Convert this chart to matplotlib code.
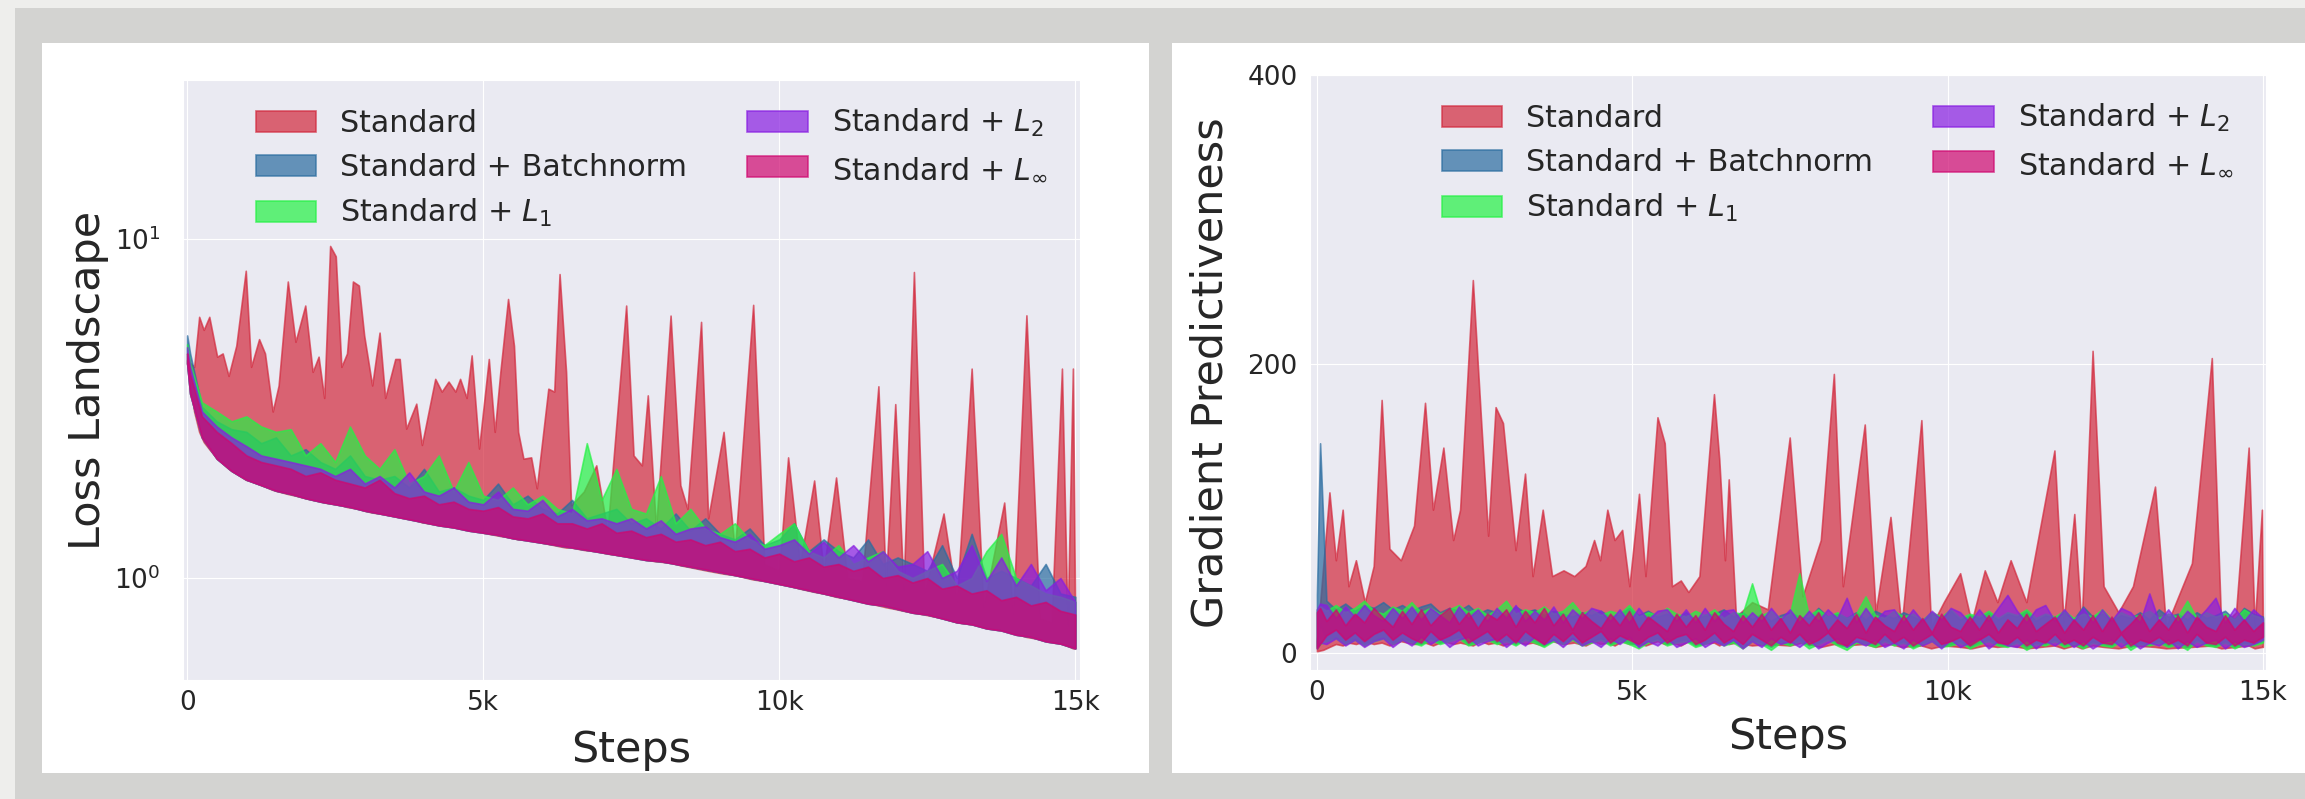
import numpy as np
import matplotlib
matplotlib.use("Agg")
import matplotlib.pyplot as plt
import seaborn as sns
from matplotlib.patches import Rectangle
from matplotlib.ticker import FixedLocator, FixedFormatter, NullFormatter, NullLocator

# ---------------------------------------------------------------- data
LABELS = ["Standard", "Standard + Batchnorm", "Standard + $L_1$",
          "Standard + $L_2$", "Standard + $L_\\infty$"]
COLORS = ["#d2283c", "#2a6ca0", "#24f244", "#881de1", "#cf076f"]

# sampling grids of the regularised runs
LOSS_STEPS = np.concatenate([[0, 50], np.arange(250, 15001, 250)])
GRAD_STEPS = np.concatenate([[0, 50], np.arange(150, 15001, 150)])

# --- loss landscape (log scale): (step, low, high) for the plain network
LOSS_STANDARD = [
    (0, 4.3, 4.4), (118, 3.1, 4.2), (203, 2.7, 5.9), (280, 2.52, 5.4), (374, 2.4, 5.9),
    (507, 2.25, 4.5), (600, 2.18, 4.6), (700, 2.1, 3.95), (830, 2.03, 4.85), (990, 1.95, 8.07),
    (1080, 1.93, 4.2), (1215, 1.89, 5.07), (1315, 1.86, 4.6), (1445, 1.82, 3.1), (1545, 1.80, 3.7),
    (1700, 1.77, 7.5), (1830, 1.75, 4.98), (1995, 1.72, 6.37), (2120, 1.70, 4.06), (2220, 1.69, 4.5),
    (2315, 1.67, 3.4), (2415, 1.66, 9.55), (2510, 1.65, 8.9), (2605, 1.64, 4.2), (2700, 1.62, 4.6),
    (2800, 1.61, 7.5), (2900, 1.60, 7.3), (2990, 1.58, 5.2), (3125, 1.56, 3.7), (3250, 1.55, 5.3),
    (3345, 1.54, 3.4), (3515, 1.52, 4.43), (3590, 1.51, 4.43), (3700, 1.50, 2.76), (3870, 1.48, 3.27),
    (3965, 1.46, 2.47), (4190, 1.44, 3.87), (4300, 1.43, 3.55), (4415, 1.42, 3.8), (4530, 1.41, 3.55),
    (4610, 1.40, 3.87), (4720, 1.39, 3.4), (4805, 1.38, 4.54), (4930, 1.37, 2.41), (5095, 1.35, 4.43),
    (5195, 1.34, 2.7), (5290, 1.33, 4.06), (5420, 1.32, 6.66), (5520, 1.31, 4.85), (5590, 1.30, 2.7),
    (5680, 1.30, 2.25), (5810, 1.29, 2.27), (5905, 1.28, 1.84), (6100, 1.26, 3.62), (6200, 1.25, 3.55),
    (6290, 1.24, 7.89), (6400, 1.23, 4.06), (6485, 1.23, 1.64), (6700, 1.21, 1.8), (6910, 1.20, 2.15),
    (7100, 1.18, 1.37), (7415, 1.16, 6.37), (7540, 1.15, 2.3), (7680, 1.14, 2.15), (7780, 1.13, 3.46),
    (7920, 1.12, 1.4), (8165, 1.11, 5.95), (8330, 1.09, 1.88), (8450, 1.08, 1.6), (8680, 1.06, 5.7),
    (8800, 1.05, 1.5), (9060, 1.03, 2.7), (9250, 1.02, 1.2), (9560, 0.99, 6.4), (9750, 0.98, 1.1),
    (10000, 0.96, 1.05), (10150, 0.95, 2.27), (10350, 0.93, 1.1), (10590, 0.91, 1.94), (10750, 0.90, 1.05),
    (10960, 0.88, 1.98), (11150, 0.87, 1.0), (11400, 0.85, 0.98), (11675, 0.83, 3.68), (11800, 0.82, 0.95),
    (11960, 0.81, 3.26), (12100, 0.80, 0.92), (12275, 0.79, 8.0), (12450, 0.78, 0.9), (12775, 0.76, 1.55),
    (13000, 0.74, 0.85), (13250, 0.73, 4.15), (13450, 0.72, 0.82), (13800, 0.70, 1.67), (13950, 0.69, 0.78),
    (14175, 0.67, 5.96), (14400, 0.66, 0.76), (14600, 0.65, 0.74), (14775, 0.64, 4.15), (14870, 0.63, 0.72),
    (14960, 0.62, 4.15), (15000, 0.62, 0.7),
]

# common lower envelope of the regularised runs on LOSS_STEPS
LOSS_FLOOR = [4.3, 3.5, 2.6, 2.25, 2.07, 1.95, 1.88, 1.81, 1.77, 1.72,
              1.68, 1.65, 1.62, 1.58, 1.55, 1.52, 1.49, 1.46, 1.43, 1.41,
              1.38, 1.36, 1.34, 1.31, 1.29, 1.27, 1.25, 1.23, 1.21, 1.19,
              1.17, 1.15, 1.13, 1.12, 1.10, 1.08, 1.06, 1.04, 1.02, 1.00,
              0.98, 0.96, 0.94, 0.92, 0.90, 0.88, 0.86, 0.84, 0.83, 0.81,
              0.79, 0.78, 0.76, 0.74, 0.73, 0.71, 0.70, 0.68, 0.67, 0.65,
              0.64, 0.62]
LOSS_BN_HIGH = [5.2, 4.6, 3.2, 2.9, 2.75, 2.7, 2.5, 2.6, 2.3, 2.4,
                2.2, 2.1, 2.3, 2.0, 1.95, 2.0, 1.85, 2.1, 1.8, 1.85,
                1.75, 1.7, 1.9, 1.65, 1.75, 1.6, 1.55, 1.7, 1.5, 1.55,
                1.6, 1.45, 1.5, 1.4, 1.55, 1.38, 1.5, 1.35, 1.3, 1.4,
                1.25, 1.3, 1.45, 1.2, 1.3, 1.2, 1.15, 1.3, 1.1, 1.15,
                1.1, 1.05, 1.25, 1.0, 1.35, 1.0, 1.05, 1.0, 0.95, 1.1,
                0.9, 0.88]
LOSS_L1_HIGH = [4.9, 4.3, 3.3, 3.1, 2.9, 3.0, 2.8, 2.7, 2.75, 2.3,
                2.5, 2.2, 2.8, 2.3, 2.1, 2.4, 1.9, 2.0, 2.3, 1.8,
                2.2, 1.75, 1.7, 1.85, 1.65, 1.75, 1.6, 1.55, 2.5, 1.7,
                2.1, 1.6, 1.55, 2.0, 1.45, 1.6, 1.4, 1.35, 1.45, 1.3,
                1.25, 1.35, 1.45, 1.2, 1.15, 1.25, 1.1, 1.15, 1.2, 1.05,
                1.0, 1.05, 1.1, 0.95, 1.0, 1.2, 1.35, 1.0, 0.95, 0.9,
                0.88, 0.85]
LOSS_L2_HIGH = [4.8, 4.2, 3.1, 2.8, 2.6, 2.45, 2.3, 2.25, 2.2, 2.15,
                2.1, 2.0, 2.1, 1.9, 2.0, 1.85, 2.05, 1.8, 1.75, 1.85,
                1.68, 1.65, 1.8, 1.6, 1.58, 1.7, 1.52, 1.6, 1.48, 1.5,
                1.45, 1.5, 1.4, 1.48, 1.35, 1.4, 1.42, 1.32, 1.28, 1.35,
                1.22, 1.25, 1.3, 1.18, 1.28, 1.15, 1.25, 1.12, 1.2, 1.08,
                1.1, 1.2, 1.0, 1.05, 1.25, 0.98, 1.15, 0.95, 1.1, 0.92,
                1.0, 0.85]
LOSS_LINF_HIGH = [4.6, 4.0, 3.0, 2.7, 2.5, 2.3, 2.2, 2.15, 2.1, 2.0,
                  2.05, 1.95, 1.9, 1.85, 1.95, 1.78, 1.72, 1.75, 1.65, 1.68,
                  1.6, 1.58, 1.62, 1.52, 1.5, 1.55, 1.45, 1.45, 1.4, 1.45,
                  1.36, 1.38, 1.32, 1.35, 1.28, 1.3, 1.25, 1.28, 1.2, 1.22,
                  1.15, 1.18, 1.12, 1.15, 1.08, 1.1, 1.05, 1.08, 1.0, 1.02,
                  0.97, 1.0, 0.93, 0.95, 0.9, 0.92, 0.86, 0.88, 0.83, 0.85,
                  0.8, 0.78]

# --- gradient predictiveness: (step, low, high) for the plain network
GRAD_STANDARD = [
    (0, 1, 8), (100, 2, 60), (198, 4, 111), (300, 6, 64), (408, 5, 99), (500, 7, 46),
    (618, 6, 64), (760, 8, 35), (900, 6, 60), (1026, 7, 175), (1150, 5, 72), (1330, 8, 64),
    (1540, 6, 88), (1714, 7, 173), (1840, 5, 99), (2005, 8, 142), (2160, 6, 78), (2270, 7, 99),
    (2472, 5, 258), (2600, 8, 163), (2715, 6, 81), (2833, 7, 170), (2950, 5, 159), (3150, 8, 71),
    (3300, 6, 124), (3420, 7, 53), (3580, 5, 99), (3730, 8, 53), (3910, 6, 57), (4080, 7, 53),
    (4260, 5, 60), (4395, 8, 78), (4490, 6, 64), (4605, 7, 99), (4720, 5, 78), (4840, 8, 85),
    (4955, 6, 46), (5107, 7, 110), (5210, 5, 53), (5400, 8, 163), (5515, 6, 145), (5630, 7, 46),
    (5770, 5, 50), (5890, 8, 42), (6065, 6, 53), (6296, 7, 179), (6380, 5, 134), (6470, 8, 64),
    (6530, 6, 120), (6645, 7, 25), (6900, 5, 35), (7150, 6, 30), (7497, 5, 149), (7700, 7, 39),
    (7990, 4, 78), (8197, 6, 193), (8340, 5, 46), (8687, 6, 158), (8860, 4, 28), (9095, 6, 94),
    (9270, 4, 18), (9585, 5, 161), (9740, 3, 18), (9940, 5, 35), (10200, 4, 55), (10380, 3, 21),
    (10590, 5, 57), (10790, 4, 35), (11000, 5, 64), (11250, 3, 35), (11695, 5, 140), (11840, 3, 21),
    (12010, 5, 96), (12125, 3, 18), (12300, 5, 209), (12475, 4, 46), (12710, 3, 28), (12940, 5, 46),
    (13290, 4, 115), (13465, 3, 18), (13875, 4, 62), (14190, 5, 204), (14340, 3, 18), (14575, 4, 28),
    (14775, 5, 142), (14870, 3, 18), (14985, 4, 99), (15000, 4, 20),
]

# regularised runs on GRAD_STEPS
GRAD_BN_LOW = [4, 20, 8, 11, 7, 10, 6, 9, 11, 7,
               10, 8, 6, 10, 7, 9, 11, 6, 8, 10,
               7, 9, 6, 10, 8, 5, 9, 7, 10, 6,
               8, 10, 6, 9, 7, 5, 8, 10, 6, 8,
               9, 5, 7, 10, 6, 8, 4, 9, 7, 4,
               8, 6, 9, 5, 7, 10, 6, 4, 8, 7,
               5, 9, 6, 8, 4, 7, 9, 5, 6, 8,
               4, 7, 9, 6, 5, 8, 4, 7, 6, 9,
               5, 7, 4, 8, 6, 5, 9, 4, 7, 6,
               8, 5, 7, 4, 9, 6, 5, 8, 4, 7,
               6, 8]
GRAD_BN_HIGH = [40, 145, 36, 30, 34, 29, 33, 31, 35, 30,
                33, 29, 32, 34, 28, 31, 29, 33, 27, 30,
                28, 26, 32, 28, 30, 26, 29, 27, 25, 28,
                26, 29, 25, 27, 31, 26, 29, 25, 27, 24,
                28, 23, 26, 27, 30, 25, 28, 23, 27, 22,
                26, 28, 25, 24, 31, 25, 27, 24, 28, 23,
                29, 26, 24, 28, 25, 22, 27, 24, 29, 23,
                26, 24, 28, 23, 27, 25, 29, 22, 26, 24,
                28, 23, 32, 25, 27, 22, 26, 24, 28, 23,
                30, 25, 27, 23, 28, 24, 26, 29, 23, 31,
                27, 25]
GRAD_L1_LOW = [3, 6, 8, 10, 6, 9, 5, 8, 10, 6,
               9, 7, 5, 9, 6, 8, 10, 5, 7, 9,
               6, 8, 5, 9, 7, 4, 8, 6, 9, 5,
               7, 9, 5, 8, 6, 3, 7, 9, 5, 7,
               8, 4, 6, 9, 5, 7, 3, 8, 6, 2,
               7, 5, 8, 3, 6, 9, 5, 2, 7, 6,
               4, 8, 5, 7, 3, 6, 8, 4, 5, 7,
               3, 6, 8, 5, 4, 7, 2, 6, 5, 8,
               4, 6, 3, 7, 5, 4, 8, 2, 6, 5,
               7, 4, 6, 2, 8, 5, 4, 7, 3, 6,
               5, 7]
GRAD_L1_HIGH = [30, 32, 29, 33, 28, 31, 36, 29, 27, 32,
                29, 35, 28, 31, 27, 30, 33, 28, 31, 26,
                30, 36, 27, 30, 28, 32, 27, 29, 35, 27,
                30, 26, 29, 27, 33, 25, 28, 26, 31, 27,
                25, 29, 26, 30, 24, 28, 27, 48, 26, 29,
                24, 27, 55, 26, 30, 25, 28, 24, 27, 39,
                26, 24, 29, 25, 27, 23, 28, 25, 30, 24,
                27, 25, 29, 24, 28, 26, 30, 24, 27, 25,
                29, 24, 27, 25, 30, 23, 28, 25, 26, 29,
                24, 27, 25, 36, 24, 28, 25, 27, 23, 30,
                26, 24]
GRAD_L2_LOW = [3, 7, 6, 10, 5, 9, 4, 8, 10, 4,
               9, 5, 11, 6, 10, 4, 9, 11, 5, 8,
               10, 4, 9, 5, 11, 6, 9, 4, 10, 5,
               8, 4, 10, 6, 11, 4, 8, 5, 10, 4,
               7, 10, 4, 8, 5, 9, 3, 8, 4, 10,
               6, 8, 4, 9, 3, 7, 10, 4, 8, 5,
               9, 4, 7, 3, 9, 5, 8, 3, 9, 4,
               7, 10, 3, 8, 5, 4, 9, 3, 8, 5,
               9, 4, 8, 3, 7, 9, 4, 8, 3, 7,
               5, 9, 3, 8, 4, 7, 9, 3, 8, 4,
               6, 9]
GRAD_L2_HIGH = [30, 34, 33, 24, 32, 25, 33, 26, 22, 31,
                24, 32, 23, 31, 26, 21, 32, 24, 30, 22,
                31, 24, 33, 22, 29, 23, 32, 21, 30, 24,
                31, 29, 22, 30, 21, 31, 23, 29, 30, 22,
                30, 21, 31, 22, 29, 30, 21, 28, 22, 31,
                23, 30, 21, 29, 22, 30, 24, 38, 21, 31,
                22, 29, 30, 21, 30, 22, 29, 23, 31, 28,
                21, 30, 22, 31, 40, 29, 21, 30, 33, 22,
                30, 22, 31, 21, 30, 22, 31, 28, 21, 41,
                22, 30, 21, 29, 23, 30, 38, 21, 31, 22,
                30, 24]
GRAD_LINF_LOW = [3, 6, 12, 16, 9, 14, 8, 13, 16, 9,
                 14, 10, 7, 15, 9, 12, 16, 7, 11, 15,
                 8, 13, 7, 15, 10, 6, 13, 8, 14, 7,
                 11, 15, 7, 12, 9, 6, 11, 14, 7, 11,
                 13, 6, 9, 14, 7, 11, 6, 13, 9, 5,
                 11, 7, 13, 6, 9, 14, 7, 5, 11, 9,
                 6, 13, 7, 11, 5, 9, 13, 6, 8, 11,
                 5, 9, 13, 7, 6, 11, 5, 9, 7, 13,
                 6, 9, 5, 11, 7, 6, 13, 5, 9, 7,
                 11, 6, 9, 5, 13, 7, 6, 11, 5, 9,
                 7, 11]
GRAD_LINF_HIGH = [28, 31, 22, 30, 19, 27, 21, 31, 24, 18,
                  29, 20, 30, 19, 26, 31, 20, 28, 17, 27,
                  23, 30, 18, 29, 21, 31, 19, 27, 16, 28,
                  22, 17, 27, 19, 29, 16, 25, 20, 15, 27,
                  18, 26, 16, 28, 20, 15, 26, 18, 27, 16,
                  24, 14, 26, 19, 28, 15, 23, 17, 27, 14,
                  25, 19, 15, 26, 16, 24, 14, 27, 18, 15,
                  25, 16, 26, 14, 23, 17, 27, 15, 20, 25,
                  14, 23, 16, 26, 15, 25, 14, 20, 27, 15,
                  23, 16, 26, 14, 25, 18, 15, 26, 16, 23,
                  15, 21]

XTICKS = [0, 5000, 10000, 15000]
XTICKLABELS = ["0", "5k", "10k", "15k"]

# ---------------------------------------------------------------- style
sns.set_style("darkgrid")
plt.rcParams["font.family"] = ["DejaVu Sans"]
plt.rcParams["mathtext.fontset"] = "dejavusans"

W, H = 2305, 799
fig = plt.figure(figsize=(W / 100, H / 100), dpi=100)
fig.patch.set_facecolor("#d3d3d1")


def px_rect(x0, y0, x1, y1, color):
    """Rectangle given in pixel coordinates measured from the top-left."""
    fig.add_artist(Rectangle((x0 / W, 1 - y1 / H), (x1 - x0) / W, (y1 - y0) / H,
                             transform=fig.transFigure, facecolor=color,
                             edgecolor="none", zorder=0))


px_rect(0, 0, W, 8, "#eeeeec")
px_rect(0, 0, 15, H, "#eeeeec")
px_rect(42, 43, 1149, 773, "white")
px_rect(1172, 43, W, 773, "white")


def px_axes(x0, y0, x1, y1):
    return fig.add_axes([x0 / W, 1 - y1 / H, (x1 - x0) / W, (y1 - y0) / H])


def draw_band(ax, x, lo, hi, color, label):
    ax.fill_between(x, lo, hi, color=color, alpha=0.7, linewidth=1.2, label=label)


def style_axes(ax, width_px):
    ax.set_facecolor("#eaeaf2")
    ax.xaxis.set_major_locator(FixedLocator(XTICKS))
    ax.xaxis.set_major_formatter(FixedFormatter(XTICKLABELS))
    ax.tick_params(axis="both", labelsize=19, colors=".15", length=0)
    ax.tick_params(axis="x", pad=7)
    ax.set_xlabel("Steps", fontsize=31, color=".15")
    ax.legend(loc="upper right", bbox_to_anchor=(1 - 5 / width_px, 1.0),
              ncol=2, fontsize=21.7, frameon=False, borderaxespad=0.5)


# ---------------------------------------------------------------- loss landscape
ax1 = px_axes(183, 80, 1080, 680)
std = np.array(LOSS_STANDARD)
draw_band(ax1, std[:, 0], std[:, 1], std[:, 2], COLORS[0], LABELS[0])
for high, color, label in zip([LOSS_BN_HIGH, LOSS_L1_HIGH, LOSS_L2_HIGH, LOSS_LINF_HIGH],
                              COLORS[1:], LABELS[1:]):
    draw_band(ax1, LOSS_STEPS, LOSS_FLOOR, high, color, label)
ax1.set_yscale("log")
ax1.set_ylim(0.5, 29.5)
ax1.set_xlim(-70, 15080)
ax1.yaxis.set_major_locator(FixedLocator([1, 10]))
ax1.yaxis.set_minor_locator(NullLocator())
ax1.yaxis.set_minor_formatter(NullFormatter())
style_axes(ax1, 897)
ax1.tick_params(axis="y", pad=16)
ax1.set_ylabel("Loss Landscape", fontsize=31, color=".15")
ax1.yaxis.set_label_coords(-0.083, 0.5)
ax1.xaxis.set_label_coords(0.5, -0.082)

# ---------------------------------------------------------------- gradient predictiveness
ax2 = px_axes(1310, 75, 2266, 670)
std = np.array(GRAD_STANDARD)
draw_band(ax2, std[:, 0], std[:, 1], std[:, 2], COLORS[0], LABELS[0])
for low, high, color, label in zip([GRAD_BN_LOW, GRAD_L1_LOW, GRAD_L2_LOW, GRAD_LINF_LOW],
                                   [GRAD_BN_HIGH, GRAD_L1_HIGH, GRAD_L2_HIGH, GRAD_LINF_HIGH],
                                   COLORS[1:], LABELS[1:]):
    draw_band(ax2, GRAD_STEPS, low, high, color, label)
ax2.set_ylim(-12, 400)
ax2.set_xlim(-110, 15050)
ax2.yaxis.set_major_locator(FixedLocator([0, 200, 400]))
style_axes(ax2, 956)
ax2.tick_params(axis="y", pad=9)
ax2.set_ylabel("Gradient Predictiveness", fontsize=31, color=".15")
ax2.yaxis.set_label_coords(-0.082, 0.5)
ax2.xaxis.set_label_coords(0.5, -0.077)

fig.savefig("out.png", dpi=100, facecolor=fig.get_facecolor())
